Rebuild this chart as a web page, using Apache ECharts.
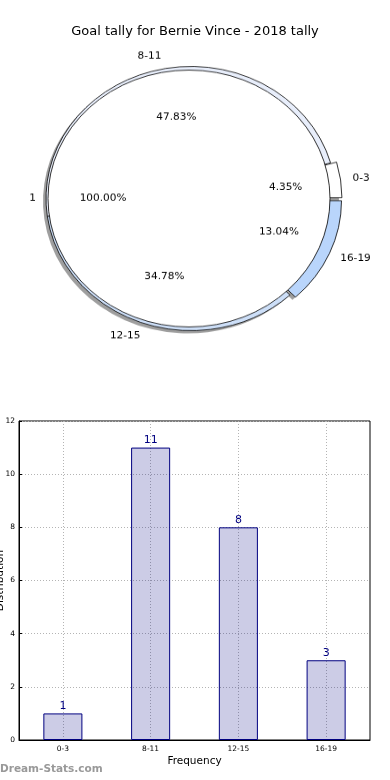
<!DOCTYPE html>
<html><head><meta charset="utf-8">
<script src="https://cdn.jsdelivr.net/npm/echarts@6/dist/echarts.min.js"></script>
<style>
html,body{margin:0;padding:0;background:#fff;}
#bar{position:absolute;left:0;top:0;width:390px;height:780px;}
#pie{position:absolute;left:0;top:0;width:390px;height:400px;transform-origin:0 198.5px;transform:scaleY(0.911);}
</style>
</head><body><div id="bar"></div><div id="pie"></div>
<script>
// ---- data ----
const chartTitle = 'Goal tally for Bernie Vince - 2018 tally';
const categories = ['0-3', '8-11', '12-15', '16-19'];
const counts = [1, 11, 8, 3];
const innerNames = ['1'];
const innerValues = [1];
const ringColors = ['#ffffff', '#e8eefb', '#cddff8', '#b9d5fb'];
const explodedSlices = ['0-3', '16-19'];
const xAxisName = 'Frequency';
const yAxisName = 'Distribution';
const watermark = 'Dream-Stats.com';

const FONT = 'DejaVu Sans';
const CX = 189, CY = 198.5, R_IN = 141, R_OUT = 145;
const RING_CX = CX + 2;

// ---- pie (elliptical via vertical scale) ----
const pieChart = echarts.init(document.getElementById('pie'), null, {renderer: 'canvas'});
const ringData = categories.map((c, i) => ({
  name: c, value: counts[i], selected: explodedSlices.includes(c),
  itemStyle: {color: ringColors[i]}
}));
const shadowData = categories.map((c, i) => ({
  name: c, value: counts[i], selected: explodedSlices.includes(c)
}));
const common = {type: 'pie', startAngle: 0, clockwise: false, animation: false, silent: true,
  avoidLabelOverlap: false, emphasis: {disabled: true}};
pieChart.setOption({
  backgroundColor: 'transparent',
  series: [
    Object.assign({}, common, {
      name: 'shadow', center: [RING_CX - 3, CY + 3], radius: [0, R_OUT], z: 1,
      selectedMode: 'multiple', selectedOffset: 6, data: shadowData,
      itemStyle: {color: 'rgba(0,0,0,0.38)', borderWidth: 0},
      select: {itemStyle: {color: 'rgba(0,0,0,0.38)', borderWidth: 0}},
      label: {show: false}, labelLine: {show: false}
    }),
    Object.assign({}, common, {
      name: 'ring', center: [RING_CX, CY], radius: [0, R_OUT], z: 2,
      selectedMode: 'multiple', selectedOffset: 6, data: ringData,
      itemStyle: {borderColor: '#000', borderWidth: 0.8},
      select: {itemStyle: {borderColor: '#000', borderWidth: 0.8}, label: {color: '#000'}},
      label: {show: true, position: 'outside', color: '#000', fontSize: 10.5, fontFamily: FONT, distanceToLabelLine: -3},
      labelLine: {show: false, length: 15, length2: 0}
    }),
    Object.assign({}, common, {
      name: 'inner', center: [CX, CY], radius: [0, R_IN], z: 3,
      data: innerNames.map((n, i) => ({name: n, value: innerValues[i]})),
      itemStyle: {color: '#ffffff', borderColor: '#000', borderWidth: 0.8},
      label: {show: true, position: 'outside', color: '#000', fontSize: 10.5, fontFamily: FONT, distanceToLabelLine: 0},
      labelLine: {show: false, length: 12, length2: 0}
    }),
    Object.assign({}, common, {
      name: 'ringPct', center: [CX + 6, CY], radius: [36, 141], z: 4,
      data: categories.map((c, i) => ({name: c, value: counts[i]})),
      itemStyle: {color: 'rgba(0,0,0,0)', borderWidth: 0},
      label: {show: true, position: 'inside', color: '#000', fontSize: 10.5, fontFamily: FONT,
        formatter: p => p.percent.toFixed(2) + '%'},
      labelLine: {show: false}
    }),
    Object.assign({}, common, {
      name: 'innerPct', center: [CX, CY], radius: [25, 141], z: 4,
      data: innerNames.map((n, i) => ({name: n, value: innerValues[i]})),
      itemStyle: {color: 'rgba(0,0,0,0)', borderWidth: 0},
      label: {show: true, position: 'inside', color: '#000', fontSize: 10.5, fontFamily: FONT,
        formatter: p => p.percent.toFixed(2) + '%'},
      labelLine: {show: false}
    })
  ]
});

// ---- bar chart + title + watermark ----
const barChart = echarts.init(document.getElementById('bar'), null, {renderer: 'canvas'});
barChart.setOption({
  backgroundColor: '#ffffff',
  animation: false,
  textStyle: {fontFamily: FONT},
  title: {text: chartTitle, left: 'center', top: 20,
    textStyle: {fontSize: 13, fontWeight: 'normal', color: '#000', fontFamily: FONT}},
  grid: {left: 19, right: 20, top: 421, bottom: 40, containLabel: false, outerBoundsMode: 'none',
    show: true, borderColor: '#000', borderWidth: 1, backgroundColor: 'transparent'},
  xAxis: {
    type: 'category', data: categories,
    axisLine: {show: true, lineStyle: {color: '#000', width: 1}},
    axisTick: {show: false},
    axisLabel: {fontSize: 7.5, color: '#000', margin: 5, fontFamily: FONT},
    splitLine: {show: true, alignWithLabel: true, lineStyle: {type: [1, 2], color: '#b4b4b4', width: 1}},
    name: xAxisName, nameLocation: 'middle', nameGap: 16, nameMoveOverlap: false,
    nameTextStyle: {fontSize: 10.5, color: '#000', fontFamily: FONT}
  },
  yAxis: {
    type: 'value', min: 0, max: 12, interval: 2,
    axisLine: {show: true, lineStyle: {color: '#000', width: 1}},
    axisTick: {show: true, inside: true, length: 3, lineStyle: {color: '#000'}},
    axisLabel: {fontSize: 7.5, color: '#000', margin: 4, fontFamily: FONT},
    splitLine: {show: true, lineStyle: {type: [1, 2], color: '#b4b4b4', width: 1}},
    name: yAxisName, nameLocation: 'middle', nameRotate: 90, nameGap: 13, nameMoveOverlap: false,
    nameTextStyle: {fontSize: 10.5, color: '#000', fontFamily: FONT}
  },
  series: [{
    type: 'bar', data: counts, barWidth: '44.5%',
    itemStyle: {color: 'rgba(0,0,128,0.2)', borderColor: '#000080', borderWidth: 1},
    label: {show: true, position: 'top', color: '#000080', fontSize: 11, distance: 2, fontFamily: FONT}
  }],
  graphic: [{
    type: 'text', left: 0, top: 764,
    style: {text: watermark, fill: '#999999', font: 'bold 10.5px "DejaVu Sans"'}
  }]
});
</script>
</body></html>
